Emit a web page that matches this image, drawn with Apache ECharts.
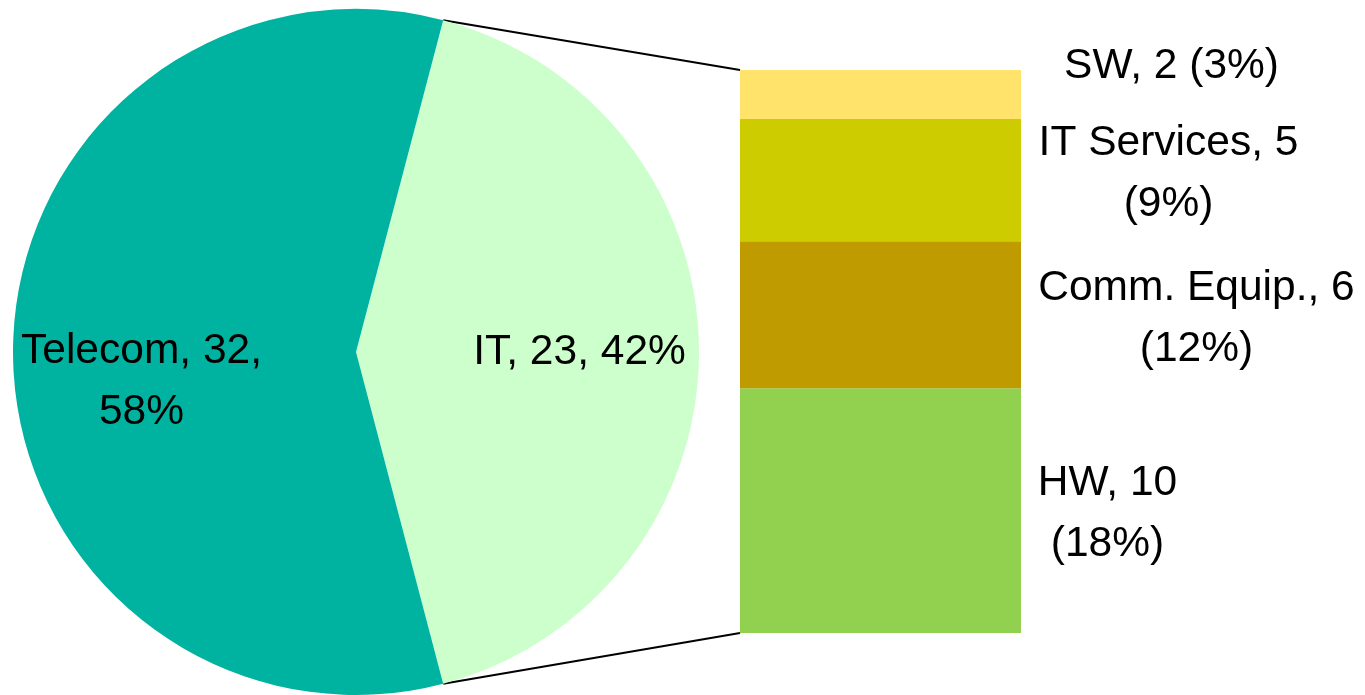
<!DOCTYPE html>
<html>
<head>
<meta charset="utf-8">
<script src="https://cdn.jsdelivr.net/npm/echarts@6/dist/echarts.min.js"></script>
<style>
  html, body { margin: 0; padding: 0; background: #fff; }
  #main { width: 1365px; height: 695px; }
</style>
</head>
<body>
<div id="main"></div>
<script>
// pie: sectors
var pieNames = ['IT', 'Telecom'];
var pieValues = [23, 32];
var pieColors = ['#CCFFCC', '#00B3A1'];

// bar: breakdown of IT, bottom to top
var barNames = ['HW', 'Comm. Equip.', 'IT Services', 'SW'];
var barValues = [10, 6, 5, 2];
var barPcts = [18, 12, 9, 3];
var barColors = ['#92D050', '#BF9B00', '#CCCC00', '#FFE36B'];

// label placement (px offsets from segment centre)
var barLabelOffsets = [[227, 3], [316, 4], [288, -6], [291, -28]];
var barLabelBreak = ['\n', '\n', '\n', ' '];
var pieLabelOffsets = [[49, 0], [-40, 30]];

var FONT = '"Liberation Sans", Arial, sans-serif';
var FS = 42.5;
var pieCenter = [356, 352];
var pieRadius = 343;

var total = pieValues[0] + pieValues[1];
var startAng = pieValues[0] / total * 180;   // IT slice centred on the right

var chart = echarts.init(document.getElementById('main'));

var barSeries = [];
for (var i = 0; i < barNames.length; i++) {
	barSeries.push({
		type: 'bar',
		name: barNames[i],
		stack: 'it',
		barWidth: '100%',
		silent: true,
		itemStyle: { color: barColors[i] },
		label: {
			show: true,
			position: 'inside',
			offset: barLabelOffsets[i],
			align: 'center',
			verticalAlign: 'middle',
			color: '#000',
			fontFamily: FONT,
			fontSize: FS,
			lineHeight: 61,
			formatter: barNames[i] + ', ' + barValues[i] + barLabelBreak[i] + '(' + barPcts[i] + '%)'
		},
		data: [barValues[i]]
	});
}

var pieData = [];
for (var j = 0; j < pieNames.length; j++) {
	var pct = Math.round(pieValues[j] / total * 100);
	pieData.push({
		name: pieNames[j],
		value: pieValues[j],
		itemStyle: { color: pieColors[j] },
		label: {
			offset: pieLabelOffsets[j],
			formatter: j === 0
				? pieNames[j] + ', ' + pieValues[j] + ', ' + pct + '%'
				: pieNames[j] + ', ' + pieValues[j] + ',\n' + pct + '%'
		}
	});
}

var option = {
	animation: false,
	backgroundColor: '#fff',
	grid: { left: 740, top: 70, width: 281, height: 563 },
	xAxis: { type: 'category', data: ['IT'], show: false },
	yAxis: { type: 'value', min: 0, max: pieValues[0], show: false },
	series: [{
		type: 'pie',
		center: pieCenter,
		radius: pieRadius,
		startAngle: startAng,
		clockwise: true,
		silent: true,
		label: {
			show: true,
			position: 'inside',
			align: 'center',
			color: '#000',
			fontFamily: FONT,
			fontSize: FS,
			lineHeight: 61
		},
		labelLine: { show: false },
		data: pieData
	}].concat(barSeries)
};
chart.setOption(option);

// connector lines from the IT slice edges to the bar corners
var rect = chart.getModel().getComponent('grid').coordinateSystem.getRect();
var a = startAng * Math.PI / 180;
var px = pieCenter[0] + pieRadius * Math.cos(a);
var pyTop = pieCenter[1] - pieRadius * Math.sin(a);
var pyBot = pieCenter[1] + pieRadius * Math.sin(a);
chart.setOption({
	graphic: [
		{ type: 'line', shape: { x1: px, y1: pyTop, x2: rect.x, y2: rect.y }, style: { stroke: '#000', lineWidth: 2 } },
		{ type: 'line', shape: { x1: px, y1: pyBot, x2: rect.x, y2: rect.y + rect.height }, style: { stroke: '#000', lineWidth: 2 } }
	]
});
</script>
</body>
</html>
